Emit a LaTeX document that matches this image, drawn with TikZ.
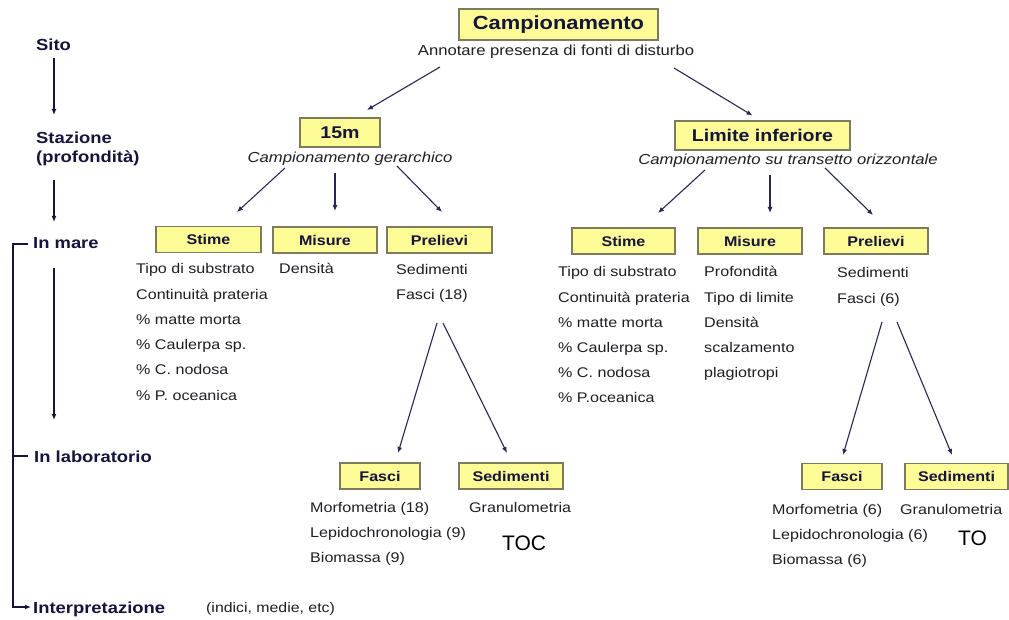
\documentclass[tikz,border=0pt]{standalone}
\usepackage{fontspec}
\setmainfont{Liberation Sans}[FakeStretch=1.15]
\newfontfamily\tocfont{Liberation Sans}
\usetikzlibrary{arrows.meta,calc}
\definecolor{navy}{RGB}{20,20,60}
\definecolor{boxfill}{RGB}{253,251,150}
\definecolor{boxline}{RGB}{125,123,95}
\definecolor{txt}{RGB}{30,30,36}
\definecolor{arrowc}{RGB}{40,40,85}
\begin{document}
\begin{tikzpicture}[x=1pt,y=-1pt,
  box/.style={draw=boxline, fill=boxfill, line width=1.3pt, inner sep=0pt, text=navy,
    font=\bfseries\fontsize{14}{16}\selectfont, minimum height=26pt},
  bigbox/.style={box, minimum height=29pt, font=\bfseries\fontsize{17}{19}\selectfont},
  lst/.style={anchor=base west, inner sep=0pt, text=txt, font=\fontsize{14}{16}\selectfont},
  sub/.style={anchor=base, inner sep=0pt, text=txt, font=\itshape\fontsize{14.5}{16}\selectfont},
  annotst/.style={anchor=base, inner sep=0pt, text=txt, font=\fontsize{14.5}{16}\selectfont},
  side/.style={anchor=base west, inner sep=0pt, text=navy, font=\bfseries\fontsize{16}{18}\selectfont},
  arr/.style={draw=arrowc, line width=1.1pt, -{Latex[length=6pt,width=5pt]}},
  sarr/.style={draw=navy, line width=1.8pt, -{Latex[length=6pt,width=5pt]}},
  tick/.style={draw=navy, line width=1.8pt},
]
\useasboundingbox[fill=white] (0,0) rectangle (1009,620);

% left column
\node[side] (sito) at (36,51) {Sito};
\node[side] (staz) at (36,144) {Stazione};
\node[side] (prof) at (36,163) {(profondità)};
\node[side] (mare) at (33,249) {In mare};
\node[side] (lab) at (34,462) {In laboratorio};
\node[side] (interp) at (33,613) {Interpretazione};
\node[lst, font=\fontsize{13.8}{15}\selectfont] (indici) at (206,612) {(indici, medie, etc)};

\draw[sarr] ($(sito.base west)+(18,7)$) -- ($(staz.base west)+(18,-29)$);
\draw[sarr] ($(prof.base west)+(18,17)$) -- ($(mare.base west)+(21,-27)$);
\draw[sarr] ($(mare.base west)+(21,19)$) -- ($(lab.base west)+(20,-42)$);
\draw[sarr] ($(mare.base west)+(-5,-5)$) -- ++(-15,0) |- ($(interp.base west)+(-2,-6)$);
\draw[tick] ($(lab.base west)+(-6,-6)$) -- ++(-15,0);

% top
\node[bigbox, minimum width=199pt, minimum height=31pt, font=\bfseries\fontsize{19}{21}\selectfont] (camp) at (558.5,24.5) {Campionamento};
\node[annotst] (annot) at (556,56) {Annotare presenza di fonti di disturbo};

\node[bigbox, minimum width=80pt] (b15) at (340,132.5) {15m};
\node[sub] (sub15) at (350,163) {Campionamento gerarchico};
\node[bigbox, minimum width=175pt] (blim) at (762.5,135.5) {Limite inferiore};
\node[sub] (sublim) at (788,165) {Campionamento su transetto orizzontale};

\draw[arr] ($(annot.base)+(-116,11)$) -- ($(b15.center)+(27,-22.5)$);
\draw[arr] ($(annot.base)+(118,12)$) -- ($(blim.center)+(-10,-20)$);

% second level boxes
\node[box, minimum width=105pt] (stimeL) at (208.5,239.5) {Stime};
\node[box, minimum width=104pt] (misL) at (325,240) {Misure};
\node[box, minimum width=105pt] (prelL) at (439.5,240) {Prelievi};
\node[box, minimum width=103pt] (stimeR) at (623.5,241) {Stime};
\node[box, minimum width=104pt] (misR) at (750,241) {Misure};
\node[box, minimum width=104pt] (prelR) at (876,241) {Prelievi};

\draw[arr] ($(sub15.base)+(-65,5)$) -- ($(stimeL.center)+(28.5,-27.5)$);
\draw[arr] ($(sub15.base)+(-15,10)$) -- ($(misL.center)+(10,-29)$);
\draw[arr] ($(sub15.base)+(47,3)$) -- ($(prelL.center)+(2.5,-28)$);
\draw[arr] ($(sublim.base)+(-83,5)$) -- ($(stimeR.center)+(34.5,-28)$);
\draw[arr] ($(sublim.base)+(-18,10)$) -- ($(misR.center)+(20,-28)$);
\draw[arr] ($(sublim.base)+(37,3)$) -- ($(prelR.center)+(-3,-26)$);

% lists, left
\foreach \t [count=\i] in {Tipo di substrato, Continuità prateria, \% matte morta, \% Caulerpa sp., \% C. nodosa, \% P. oceanica}
  \node[lst] (lsL\i) at (136,{274+25.2*(\i-1)}) {\t};
\node[lst] (densL) at (279,274) {Densità};
\node[lst] (sedtL) at (396,275) {Sedimenti};
\node[lst] (fasci18) at (396,300) {Fasci (18)};

% lists, right
\foreach \t [count=\i] in {Tipo di substrato, Continuità prateria, \% matte morta, \% Caulerpa sp., \% C. nodosa, \% P.oceanica}
  \node[lst] (lsR\i) at (558,{277+25*(\i-1)}) {\t};
\foreach \t [count=\i] in {Profondità, Tipo di limite, Densità, scalzamento, plagiotropi}
  \node[lst] (lmR\i) at (704,{277+25*(\i-1)}) {\t};
\node[lst] (sedtR) at (837,278) {Sedimenti};
\node[lst] (fasci6) at (837,303) {Fasci (6)};

% third level
\node[box, minimum width=80pt] (fasL) at (380,476) {Fasci};
\node[box, minimum width=104pt] (sedL) at (511,476) {Sedimenti};
\node[box, minimum width=80pt] (fasR) at (842,476.5) {Fasci};
\node[box, minimum width=103pt] (sedR) at (956.5,476.5) {Sedimenti};

\draw[arr] ($(fasci18.base west)+(41,23)$) -- ($(fasL.center)+(18,-23)$);
\draw[arr] ($(fasci18.base west)+(47,23)$) -- ($(sedL.center)+(-4,-23)$);
\draw[arr] ($(fasci6.base west)+(45,19)$) -- ($(fasR.center)+(1,-21.5)$);
\draw[arr] ($(fasci6.base west)+(60,19)$) -- ($(sedR.center)+(-4.5,-21.5)$);

\foreach \t [count=\i] in {Morfometria (18), Lepidochronologia (9), Biomassa (9)}
  \node[lst] (lfL\i) at (310,{512+25*(\i-1)}) {\t};
\node[lst] (granL) at (469,512) {Granulometria};
\node[anchor=base west, inner sep=0pt, font=\tocfont\fontsize{21}{24}\selectfont] (tocL) at (502,550) {TOC};

\foreach \t [count=\i] in {Morfometria (6), Lepidochronologia (6), Biomassa (6)}
  \node[lst] (lfR\i) at (772,{514+25*(\i-1)}) {\t};
\node[lst] (granR) at (900,514) {Granulometria};
\node[anchor=base west, inner sep=0pt, font=\tocfont\fontsize{21}{24}\selectfont] (tocR) at (958,545) {TO};
\end{tikzpicture}
\end{document}
